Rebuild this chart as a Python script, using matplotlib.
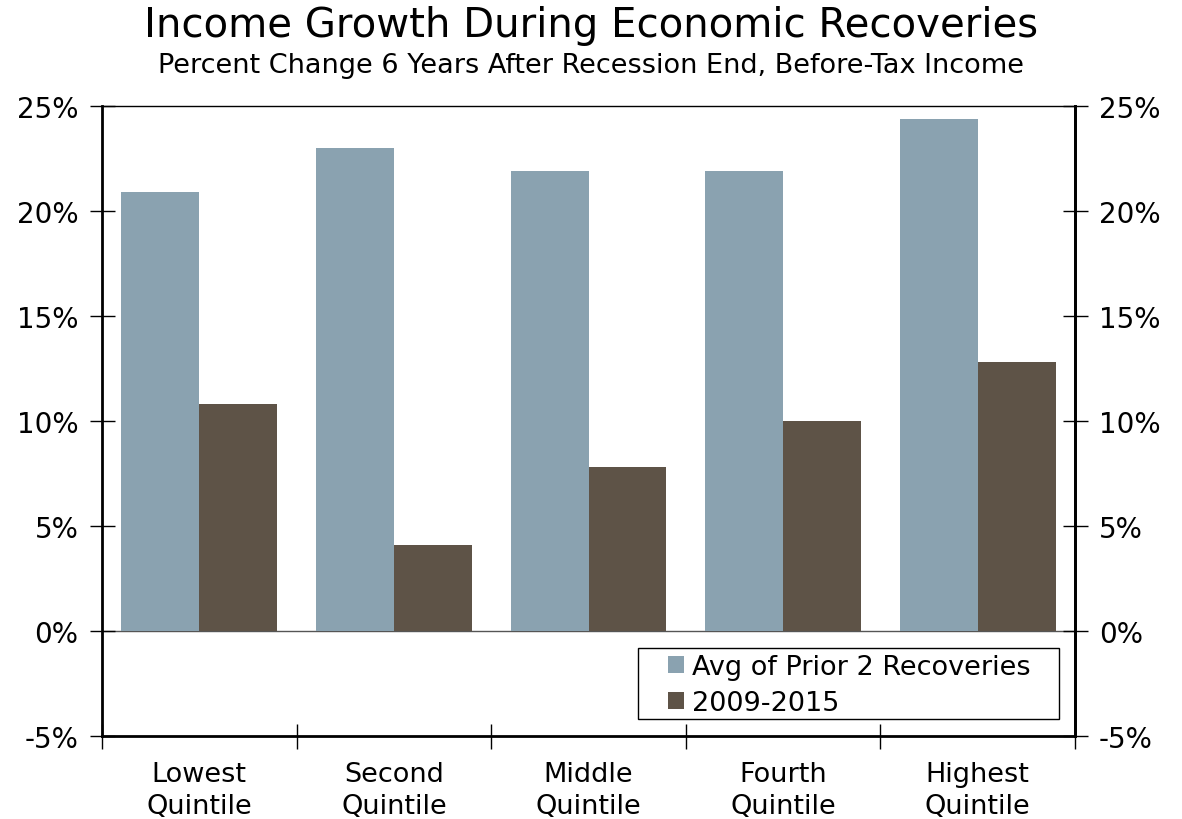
import numpy as np
import matplotlib.pyplot as plt
from matplotlib.patches import Rectangle
from matplotlib.ticker import FixedLocator, FuncFormatter

# Quintile income growth, percent change 6 years after recession end
quintiles = ['Lowest\nQuintile', 'Second\nQuintile', 'Middle\nQuintile',
             'Fourth\nQuintile', 'Highest\nQuintile']
prior_avg = [20.9, 23.0, 21.9, 21.9, 24.4]
recent = [10.8, 4.1, 7.8, 10.0, 12.8]
series_names = ['Avg of Prior 2 Recoveries', '2009-2015']
yticks = [-5, 0, 5, 10, 15, 20, 25]

grey_blue = '#8AA2B0'
brown = '#5E5347'

plt.rcParams['font.family'] = ['DejaVu Sans']

fig = plt.figure(figsize=(11.82, 8.2), dpi=100)
ax = fig.add_axes([0.0863, 0.1012, 0.8232, 0.7683])

x = np.arange(len(quintiles))
w = 0.4
ax.axhline(0, color='#555555', lw=1, zorder=1)
ax.bar(x - w / 2, prior_avg, width=w, color=grey_blue, label=series_names[0], zorder=2)
ax.bar(x + w / 2, recent, width=w, color=brown, label=series_names[1], zorder=2)

ax.set_xlim(-0.5, len(quintiles) - 0.5)
ax.set_ylim(-5, 25)

# category labels in the middle, tick marks on the boundaries
ax.set_xticks(x)
ax.set_xticklabels(quintiles, fontsize=19.5, linespacing=1.3)
ax.tick_params(axis='x', which='major', length=0, pad=18)
ax.xaxis.set_minor_locator(FixedLocator(np.arange(-0.5, len(quintiles), 1)))
ax.tick_params(axis='x', which='minor', direction='inout', length=18, width=1)

pct = FuncFormatter(lambda v, p: f'{v:.0f}%')
ax.yaxis.set_major_locator(FixedLocator(yticks))
ax.yaxis.set_major_formatter(pct)
ax.tick_params(axis='y', direction='inout', length=18, width=1, labelsize=20, pad=8)

for side in ['left', 'bottom', 'right']:
    ax.spines[side].set_linewidth(2)
ax.spines['top'].set_linewidth(1)

ax2 = ax.twinx()
ax2.set_ylim(ax.get_ylim())
ax2.yaxis.set_major_locator(FixedLocator(yticks))
ax2.yaxis.set_major_formatter(pct)
ax2.tick_params(axis='y', direction='inout', length=18, width=1, labelsize=20, pad=8)
ax2.spines['right'].set_linewidth(2)
for side in ['left', 'bottom', 'top']:
    ax2.spines[side].set_visible(False)

# legend box drawn separately for wider side padding
ax.add_patch(Rectangle((0.551, 0.027), 0.4327, 0.1127, transform=ax.transAxes,
                       fill=False, edgecolor='black', lw=1, zorder=5))
ax.legend(loc='upper left', bbox_to_anchor=(0.5817, 0.13), borderaxespad=0,
          fontsize=19.5, frameon=False, handlelength=0.6, handleheight=0.6,
          handletextpad=0.3, borderpad=0, labelspacing=0.38)

fig.text(0.5, 0.968, 'Income Growth During Economic Recoveries',
         ha='center', va='center', fontsize=29)
fig.text(0.5, 0.919, 'Percent Change 6 Years After Recession End, Before-Tax Income',
         ha='center', va='center', fontsize=19.5)

fig.savefig('out.png', dpi=100)
